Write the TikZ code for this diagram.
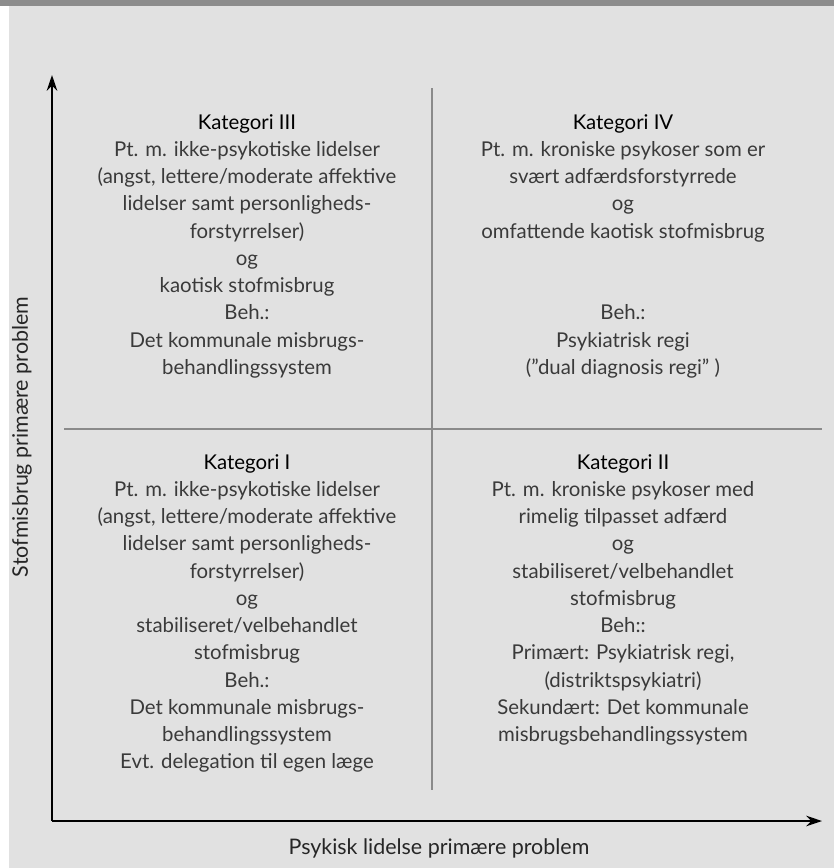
\documentclass[tikz,border=0pt]{standalone}
\usepackage{fontspec}
\setmainfont{Lato}
\usetikzlibrary{arrows.meta}

\definecolor{panelgray}{HTML}{E1E1E1}
\definecolor{bargray}{HTML}{8C8C8C}
\definecolor{textgray}{HTML}{3A3A3A}
\definecolor{gridgray}{HTML}{8A8A8A}

\tikzset{
  quadtext/.style={align=center, inner sep=0pt, anchor=north, text=textgray,
    font=\fontsize{11.6}{15.5}\selectfont},
  axislabel/.style={inner sep=0pt, text=black!85, font=\fontsize{12.2}{14}\selectfont},
  axisline/.style={line width=1.1pt, -{Stealth[length=9pt,width=6pt]}},
  gridline/.style={gridgray, line width=0.6pt}
}
\newcommand{\kat}[1]{{\color{black}#1}}

\begin{document}
\begin{tikzpicture}[x=0.2mm,y=-0.2mm]
    % background
    \fill[white] (0,0) rectangle (834,868);
    \fill[panelgray] (9,0) rectangle (834,868);
    \fill[bargray] (0,0) rectangle (834,6);
    \useasboundingbox (0,0) rectangle (834,868);

    % axes
    \coordinate (origin) at (52,821);
    \coordinate (ytip) at (52,75);
    \coordinate (xtip) at (822,821);
    \draw[axisline] (origin) -- (ytip);
    \draw[axisline] (origin) -- (xtip);

    % quadrant lines
    \coordinate (vtop) at (432,88);
    \coordinate (vbot) at (432,790);
    \coordinate (hleft) at (64,429);
    \coordinate (hright) at (822,429);
    \draw[gridline] (vtop) -- (vbot);
    \draw[gridline] (hleft) -- (hright);

    % quadrants
    \node[quadtext](katIII) at (247,114) {\kat{Kategori III}\\Pt. m. ikke-psykotiske lidelser\\(angst, lettere/moderate affektive\\lidelser samt personligheds-\\forstyrrelser)\\og\\kaotisk stofmisbrug\\Beh.:\\Det kommunale misbrugs-\\behandlingssystem};
    \node[quadtext](katIV) at (623,114) {\kat{Kategori IV}\\Pt. m. kroniske psykoser som er\\svært adfærdsforstyrrede\\og\\omfattende kaotisk stofmisbrug\\[2\baselineskip]Beh.:\\Psykiatrisk regi\\(”dual diagnosis regi” )};
    \node[quadtext](katI) at (247,454) {\kat{Kategori I}\\Pt. m. ikke-psykotiske lidelser\\(angst, lettere/moderate affektive\\lidelser samt personligheds-\\forstyrrelser)\\og\\stabiliseret/velbehandlet\\stofmisbrug\\Beh.:\\Det kommunale misbrugs-\\behandlingssystem\\Evt. delegation til egen læge};
    \node[quadtext](katII) at (623,454) {\kat{Kategori II}\\Pt. m. kroniske psykoser med\\rimelig tilpasset adfærd\\og\\stabiliseret/velbehandlet\\stofmisbrug\\Beh::\\Primært: Psykiatrisk regi,\\(distriktspsykiatri)\\Sekundært: Det kommunale\\misbrugsbehandlingssystem};

    % axis labels
    \node[axislabel, rotate=90](ylabel) at (22,437) {Stofmisbrug primære problem};
    \node[axislabel](xlabel) at (439,848) {Psykisk lidelse primære problem};
\end{tikzpicture}
\end{document}
